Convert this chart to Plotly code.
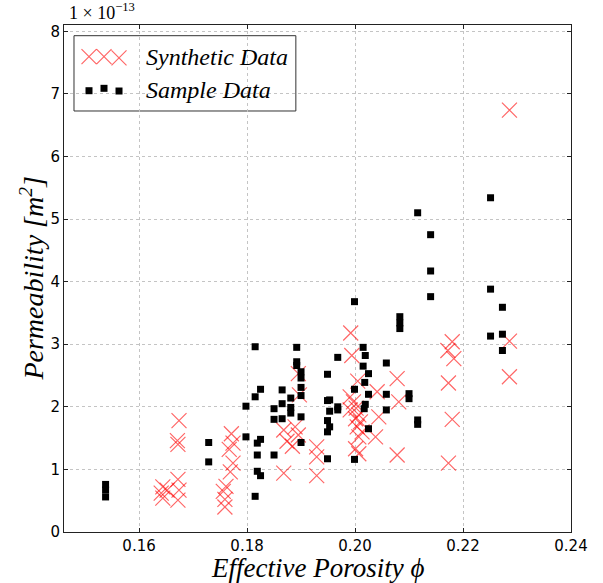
import plotly.graph_objects as go

# ---------------- data (permeability in units of 1e-13 m^2) ----------------
sample_phi = [0.1538, 0.1538, 0.1538, 0.1729, 0.1729, 0.1798, 0.1798, 0.1815, 0.1815, 0.1815,
              0.1825, 0.1825, 0.1819, 0.1819, 0.1819, 0.1825, 0.1850, 0.1850, 0.1850, 0.1865,
              0.1865, 0.1865, 0.1881, 0.1881, 0.1881, 0.1892, 0.1892, 0.1892, 0.1900, 0.1900,
              0.1900, 0.1900, 0.1900, 0.1900, 0.1949, 0.1949, 0.1953, 0.1953, 0.1949, 0.1953,
              0.1949, 0.1949, 0.1968, 0.1968, 0.1968, 0.1999, 0.1999, 0.1999, 0.2015, 0.2019,
              0.2015, 0.2025, 0.2018, 0.2025, 0.2019, 0.2017, 0.2025, 0.2058, 0.2058, 0.2058,
              0.2083, 0.2083, 0.2083, 0.2100, 0.2100, 0.2116, 0.2116, 0.2116, 0.2140, 0.2140,
              0.2140, 0.2251, 0.2251, 0.2251, 0.2273, 0.2273, 0.2273]
sample_k = [0.76, 0.67, 0.56, 1.43, 1.12, 2.01, 1.52, 2.96, 2.16, 0.57,
            2.28, 1.48, 1.42, 1.23, 0.97, 0.90, 1.97, 1.80, 1.23, 2.27,
            2.05, 1.81, 2.14, 1.99, 1.90, 2.95, 2.72, 2.66, 2.56, 2.46,
            2.31, 2.18, 1.84, 1.43, 2.52, 2.10, 2.11, 1.93, 1.78, 1.68,
            1.60, 1.17, 2.79, 2.00, 1.95, 3.68, 2.28, 1.16, 2.95, 2.82,
            2.65, 2.53, 2.39, 2.20, 2.04, 1.97, 1.65, 2.70, 2.20, 1.95,
            3.44, 3.34, 3.25, 2.21, 2.13, 5.10, 1.79, 1.72, 4.75, 4.17,
            3.76, 5.34, 3.88, 3.13, 3.59, 3.16, 2.90]

synth_phi = [0.1674, 0.1671, 0.1672, 0.1644, 0.1641, 0.1652, 0.1644, 0.1672, 0.1674, 0.1672,
             0.1771, 0.1774, 0.1767, 0.1774, 0.1769, 0.1761, 0.1756, 0.1759, 0.1759,
             0.1868, 0.1889, 0.1874, 0.1895, 0.1884, 0.1895, 0.1897, 0.1868, 0.1929, 0.1929, 0.1929,
             0.1992, 0.1994, 0.2005, 0.1991, 0.1997, 0.1991, 0.2002, 0.2007, 0.2001, 0.2010,
             0.2004, 0.2013, 0.2007, 0.2001, 0.2007, 0.2041, 0.2044, 0.2038, 0.2078, 0.2081, 0.2078,
             0.2180, 0.2172, 0.2183, 0.2173, 0.2180, 0.2173, 0.2286, 0.2286, 0.2286]
synth_k = [1.78, 1.46, 1.40, 0.72, 0.62, 0.67, 0.54, 0.84, 0.67, 0.51,
           1.57, 1.42, 1.32, 1.10, 0.96, 0.73, 0.65, 0.52, 0.40,
           1.63, 1.68, 1.45, 1.55, 1.37, 2.53, 2.19, 0.94, 1.36, 1.20, 0.90,
           3.18, 2.82, 2.41, 2.16, 2.08, 1.95, 1.98, 1.87, 1.81, 1.76,
           1.68, 1.60, 1.52, 1.33, 1.25, 2.24, 1.84, 1.52, 2.45, 2.08, 1.23,
           3.04, 2.90, 2.77, 2.38, 1.80, 1.10, 3.05, 2.48, 6.74]

x_ticks = [0.16, 0.18, 0.20, 0.22, 0.24]
x_tick_text = ["0.16", "0.18", "0.20", "0.22", "0.24"]
y_ticks = [0, 1, 2, 3, 4, 5, 6, 7, 8]

RED = "rgba(255,0,0,0.6)"
SERIF = "Liberation Serif"
SANS = "DejaVu Sans"

fig = go.Figure()
fig.add_trace(go.Scatter(x=synth_phi, y=synth_k, mode="markers", name="Synthetic Data",
                         marker=dict(symbol="x-thin-open", size=15, color=RED,
                                     line=dict(color=RED, width=1.2)),
                         showlegend=False))
fig.add_trace(go.Scatter(x=sample_phi, y=sample_k, mode="markers", name="Sample Data",
                         marker=dict(symbol="square", size=7, color="black"),
                         showlegend=False))

# ---------------- custom legend (three scatter points per entry) ----------------
leg_x = [0.0493, 0.0789, 0.1085]
leg_y_syn = [0.9375, 0.9375, 0.9350]
leg_y_sam = [0.8704, 0.8751, 0.8698]
fig.add_trace(go.Scatter(x=leg_x, y=leg_y_syn, xaxis="x2", yaxis="y2", mode="markers",
                         marker=dict(symbol="x-thin-open", size=15, color=RED,
                                     line=dict(color=RED, width=1.2)),
                         showlegend=False, hoverinfo="skip"))
fig.add_trace(go.Scatter(x=leg_x, y=leg_y_sam, xaxis="x2", yaxis="y2", mode="markers",
                         marker=dict(symbol="square", size=7, color="black"),
                         showlegend=False, hoverinfo="skip"))

axis_common = dict(showline=True, linecolor="#222222", linewidth=1, mirror="ticks",
                   ticks="inside", ticklen=4, tickcolor="#222222",
                   showgrid=True, gridcolor="#c4c4c4", gridwidth=1, griddash="dot",
                   zeroline=False, tickfont=dict(family=SANS, size=15, color="black"))

fig.update_layout(
    width=603, height=583,
    margin=dict(l=64, r=32, t=25, b=51),
    paper_bgcolor="white", plot_bgcolor="white",
    xaxis=dict(range=[0.1461, 0.24], tickvals=x_ticks, ticktext=x_tick_text, **axis_common),
    yaxis=dict(range=[0, 8.1], tickvals=y_ticks, **axis_common),
    xaxis2=dict(overlaying="x", range=[0, 1], visible=False),
    yaxis2=dict(overlaying="y", range=[0, 1], visible=False),
    shapes=[dict(type="rect", xref="paper", yref="paper", x0=0.0197, x1=0.4573,
                 y0=0.8304, y1=0.9789, line=dict(color="#333333", width=1),
                 fillcolor="white", layer="between")],
    annotations=[
        dict(text="<i>Synthetic Data</i>", xref="paper", yref="paper", x=0.158, y=0.9375,
             xanchor="left", yanchor="middle", showarrow=False,
             font=dict(family=SERIF, size=24, color="black")),
        dict(text="<i>Sample Data</i>", xref="paper", yref="paper", x=0.158, y=0.8715,
             xanchor="left", yanchor="middle", showarrow=False,
             font=dict(family=SERIF, size=24, color="black")),
        dict(text="1 × 10<sup>−13</sup>", xref="paper", yref="paper", x=0.005, y=1.0,
             xanchor="left", yanchor="bottom", showarrow=False,
             font=dict(family=SERIF, size=18, color="black")),
        dict(text="<i>Effective Porosity ϕ</i>", xref="paper", yref="paper", x=0.5, y=-0.071,
             xanchor="center", yanchor="middle", showarrow=False,
             font=dict(family=SERIF, size=27, color="black")),
        dict(text="<i>Permeability [m<sup>2</sup>]</i>", xref="paper", yref="paper",
             x=-0.063, y=0.5, xanchor="center", yanchor="middle", textangle=-90,
             showarrow=False, font=dict(family=SERIF, size=28, color="black")),
    ],
)

fig.write_html("out.html")
